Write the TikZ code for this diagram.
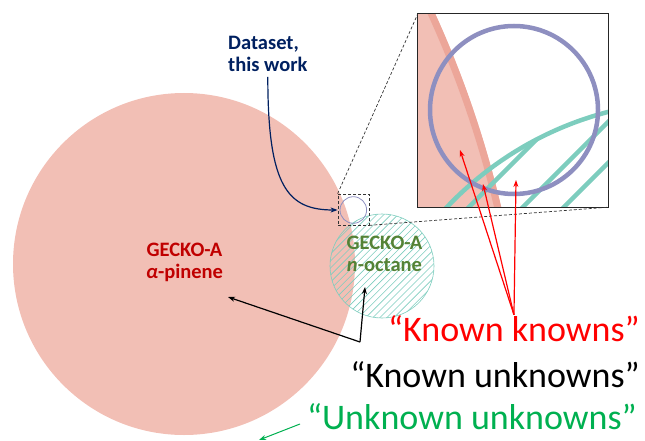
\documentclass[tikz,border=0pt]{standalone}
\usepackage{fontspec}
\setmainfont{Carlito}
\usetikzlibrary{calc,arrows.meta,positioning}

\definecolor{pinkfill}{RGB}{242,191,181}
\definecolor{pinkedge}{RGB}{236,166,153}
\definecolor{tealline}{RGB}{125,205,190}
\definecolor{bluering}{RGB}{142,143,192}
\definecolor{navytext}{RGB}{0,32,96}
\definecolor{redtext}{RGB}{192,0,0}
\definecolor{olivetext}{RGB}{84,130,53}
\definecolor{greentext}{RGB}{0,176,80}

\tikzset{
	lbl/.style={font=\fontsize{20.5}{22}\selectfont\bfseries,align=center,inner sep=0pt},
	quote/.style={font=\fontsize{36}{40}\selectfont,anchor=base east,inner sep=0pt},
	ptr/.style={-{Stealth[length=7pt,width=5pt]},line width=1.2pt},
	zoomline/.style={dash pattern=on 3pt off 2pt,line width=0.7pt,black!80}
}

\begin{document}
\begin{tikzpicture}[x=1pt,y=-1pt]
	\useasboundingbox (0,0) rectangle (645,441);
	\node[circle,fill=pinkfill,minimum size=342pt,inner sep=0pt] (1) at (184,264) {};
	\node[circle,draw=tealline,line width=0.6pt,minimum size=104pt,inner sep=0pt] (2) at (382,266) {};
	% hatching
	\begin{scope}
		\clip (2.center) circle[radius=52];
		\foreach \k in {-24,...,24}
			\draw[tealline,line width=0.6pt] ($(2.center)+(\k*7.07-60,60)$) -- ++(120,-120);
	\end{scope}
	\node[circle,draw=bluering,line width=0.8pt,minimum size=26.6pt,inner sep=0pt] (3) at (353.3,210) {};
	\node[draw,zoomline,minimum size=31pt,inner sep=0pt] (4) at (353.5,209.5) {};
	\node[minimum width=190pt,minimum height=193pt,inner sep=0pt] (5) at (513,110.5) {};
	% zoomed view
	\begin{scope}
		\clip (5.south west) rectangle (5.north east);
		\fill[pinkfill] (-520,448) circle[radius=1049];
		\draw[pinkedge,line width=7pt] (-520,448) circle[radius=1045.5];
		\draw[tealline,line width=4.5pt] (693.5,440.9) circle[radius=339.8];
		\begin{scope}
			\clip (693.5,440.9) circle[radius=339.8];
			\foreach \x in {466,520,561}
				\draw[tealline,line width=4.5pt] (\x,210) -- ++(250,-250);
		\end{scope}
		\draw[bluering,line width=4.5pt] (514,110) circle[radius=84];
	\end{scope}
	\draw[line width=0.8pt,black!85] (5.south west) rectangle (5.north east);
	\draw[zoomline] (4.north west) -- (5.north west);
	\draw[zoomline] (4.south east) -- (5.south east);

	\node[lbl,redtext] (6) at (184.5,262) {GECKO-A\\\textit{α}-pinene};
	\node[lbl,olivetext] (7) at (384.5,254) {GECKO-A\\\textit{n}-octane};
	\node[lbl,navytext,align=left,anchor=north west] (8) at (228,36) {Dataset,\\this work};

	\node[quote,red] (9) at (640,341) {“Known knowns”};
	\node[quote] (10) at (640,387) {“Known unknowns”};
	\node[quote,greentext] (11) at (637,429) {“Unknown unknowns”};

	\coordinate (a) at (460,150);
	\coordinate (b) at (483,184);
	\coordinate (c) at (516,180);
	\coordinate (d) at (360,342);
	\coordinate (e) at (228,297);
	\coordinate (f) at (365,287);
	\coordinate (g) at (300,424);
	\coordinate (h) at (259,440);

	\draw[ptr,navytext] ([yshift=-5pt]8.south) .. controls +(0,110) and +(-50,0) .. ([xshift=-2pt]3.west);
	\foreach \t in {a,b,c}
		\draw[ptr,red] (9.north) -- (\t);
	\draw[ptr,black] (d) -- (e);
	\draw[ptr,black] (d) -- (f);
	\draw[ptr,greentext,line width=1pt] (g) -- (h);
\end{tikzpicture}
\end{document}
